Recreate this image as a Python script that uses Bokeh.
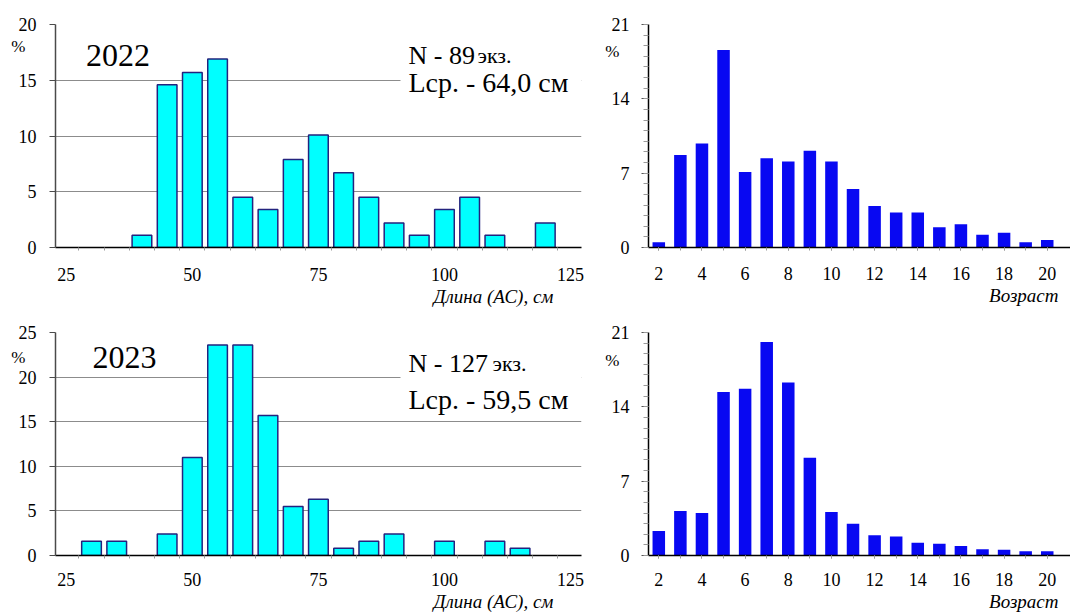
from bokeh.plotting import figure
from bokeh.layouts import row, column
from bokeh.models import FixedTicker, Label, BoxAnnotation, Range1d, LinearAxis, Title
from bokeh.embed import file_html
from bokeh.resources import INLINE

# ---------------- data ----------------
length_bins = [30, 35, 40, 45, 50, 55, 60, 65, 70, 75, 80, 85, 90, 95, 100, 105, 110, 115, 120]
length_2022 = [0, 0, 1.1, 14.6, 15.7, 16.9, 4.5, 3.4, 7.9, 10.1, 6.7, 4.5, 2.2, 1.1, 3.4, 4.5, 1.1, 0, 2.2]
length_2023 = [1.6, 1.6, 0, 2.4, 11.0, 23.6, 23.6, 15.7, 5.5, 6.3, 0.8, 1.6, 2.4, 0, 1.6, 0, 1.6, 0.8, 0]

ages = [2, 3, 4, 5, 6, 7, 8, 9, 10, 11, 12, 13, 14, 15, 16, 17, 18, 19, 20]
age_2022 = [0.5, 8.7, 9.8, 18.6, 7.1, 8.4, 8.1, 9.1, 8.1, 5.5, 3.9, 3.3, 3.3, 1.9, 2.2, 1.2, 1.4, 0.5, 0.7]
age_2023 = [2.3, 4.2, 4.0, 15.4, 15.7, 20.1, 16.3, 9.2, 4.1, 3.0, 1.9, 1.8, 1.2, 1.1, 0.9, 0.6, 0.55, 0.4, 0.4]

length_ticks = [25, 50, 75, 100, 125]
length_edges = [27.5, 32.5, 37.5, 42.5, 47.5, 52.5, 57.5, 62.5, 67.5, 72.5, 77.5, 82.5,
                87.5, 92.5, 97.5, 102.5, 107.5, 112.5, 117.5, 122.5]
length_yticks_2022 = [0, 5, 10, 15, 20]
length_yticks_2023 = [0, 5, 10, 15, 20, 25]
age_ticks = [2, 4, 6, 8, 10, 12, 14, 16, 18, 20]
age_yticks = [0, 7, 14, 21]

years = ["2022", "2023"]
counts = ["N - 89", "N - 127"]
means = ["Lср. - 64,0 см", "Lср. - 59,5 см"]
length_title = "Длина (АС), см"
age_title = "Возраст"
pct = "%"

SERIF = "Liberation Serif, 'Times New Roman', serif"


def make_fig(size, borders, xr, yr):
    w, h = size
    bl, br, bt, bb = borders
    p = figure(width=w, height=h,
               min_border_left=bl, min_border_right=br,
               min_border_top=bt, min_border_bottom=bb,
               x_range=Range1d(*xr), y_range=Range1d(*yr),
               output_backend="svg", toolbar_location=None,
               background_fill_color="white", border_fill_color="white",
               outline_line_color=None)
    p.xgrid.visible = False
    for ax in (p.xaxis[0], p.yaxis[0]):
        ax.major_label_text_font = SERIF
        ax.major_label_text_font_size = "18px"
        ax.major_label_text_color = "black"
        ax.major_tick_in = 0
        ax.minor_tick_in = 0
    return p


def add_pct_axis(p, yval, standoff):
    ax = LinearAxis(ticker=FixedTicker(ticks=[yval]),
                    major_label_overrides={yval: pct})
    ax.axis_line_color = None
    ax.major_tick_out = 0
    ax.major_tick_in = 0
    ax.minor_tick_out = 0
    ax.minor_tick_in = 0
    ax.major_label_standoff = standoff
    ax.major_label_text_font = SERIF
    ax.major_label_text_font_size = "17px"
    ax.major_label_text_color = "black"
    p.add_layout(ax, "left")


def add_x_title(p, text, offset):
    t = Title(text=text, align="right", offset=offset, standoff=0,
              text_font=SERIF, text_font_size="19px", text_font_style="italic",
              text_color="black")
    p.add_layout(t, "below")


def mapper(frame, xr, yr):
    L, R, T, B = frame

    def X(px):
        return xr[0] + (px - L) / (R - L) * (xr[1] - xr[0])

    def Y(py):
        return yr[0] + (B - py) / (B - T) * (yr[1] - yr[0])
    return X, Y


def length_panel(idx, values, yticks, frame, size, borders, xstandoff):
    L, R, T, B = frame
    px_per_unit = 5.042
    x0 = 25 - (65.8 - L) / px_per_unit
    xr = (x0, x0 + (R - L) / px_per_unit)
    yr = (0, yticks[-1])
    p = make_fig(size, borders, xr, yr)
    X, Y = mapper(frame, xr, yr)

    xs = [b for b, v in zip(length_bins, values) if v > 0]
    ts = [v for v in values if v > 0]
    p.vbar(x=xs, top=ts, bottom=0, width=3.9, fill_color="#00ffff",
           line_color="#23237e", line_width=1.5)

    p.ygrid.ticker = FixedTicker(ticks=yticks)
    p.ygrid.grid_line_color = "#8c8c8c"
    p.ygrid.grid_line_width = 1
    ya = p.yaxis[0]
    ya.ticker = FixedTicker(ticks=yticks)
    ya.axis_line_color = "#4a4a4a"
    ya.axis_line_width = 1.5
    ya.major_tick_line_color = "#4a4a4a"
    ya.major_tick_out = 6
    ya.minor_tick_out = 0
    ya.major_label_standoff = 13
    xa = p.xaxis[0]
    xa.ticker = FixedTicker(ticks=length_ticks, minor_ticks=length_edges)
    xa.axis_line_color = "black"
    xa.axis_line_width = 1.5
    xa.major_tick_out = 0
    xa.minor_tick_out = 3
    xa.minor_tick_line_color = "#9a9a9a"
    xa.major_label_standoff = xstandoff

    add_pct_axis(p, round(Y(T + (22.5 if idx == 0 else 25)), 2), -10)
    add_x_title(p, length_title, 28)

    # white patch that interrupts the grid line behind the legend text
    p.add_layout(BoxAnnotation(left=X(400), right=xr[1],
                               bottom=Y(T + (76 if idx == 0 else 75)),
                               top=Y(T + (38 if idx == 0 else 34)),
                               fill_color="white", fill_alpha=1.0, line_alpha=0))

    def lab(px, py, text, size_px, align="left", baseline="middle"):
        p.add_layout(Label(x=X(px), y=Y(py), text=text, text_font=SERIF,
                           text_font_size=f"{size_px}px", text_align=align,
                           text_baseline=baseline, text_color="black"))

    if idx == 0:
        lab(117.5, T + 31.5, years[idx], 32, align="center")
        lab(408, T + 31.3, counts[idx], 26, baseline="alphabetic")
        lab(477, T + 31.3, "экз.", 22, baseline="alphabetic")
        lab(408, T + 59, means[idx], 28, baseline="alphabetic")
    else:
        lab(124, T + 25.3, years[idx], 32, align="center")
        lab(408, T + 32, counts[idx], 26, baseline="alphabetic")
        lab(492, T + 32, "экз.", 22, baseline="alphabetic")
        lab(408, T + 68.7, means[idx], 28, baseline="alphabetic")
    return p


def age_panel(values, frame, size, borders, xstandoff):
    L, R, T, B = frame
    px_per_unit = 21.58
    x0 = 2 - (658.3 - L) / px_per_unit
    xr = (x0, x0 + (R - L) / px_per_unit)
    yr = (0, 21)
    p = make_fig(size, borders, xr, yr)
    p.ygrid.visible = False
    p.vbar(x=ages, top=values, bottom=0, width=0.58, fill_color="#0808f2",
           line_color=None)
    X, Y = mapper(frame, xr, yr)
    ya = p.yaxis[0]
    ya.ticker = FixedTicker(ticks=age_yticks, minor_ticks=list(range(0, 22)))
    ya.axis_line_color = "black"
    ya.axis_line_width = 1.5
    ya.major_tick_out = 7
    ya.major_tick_line_color = "#555555"
    ya.minor_tick_out = 5
    ya.minor_tick_line_color = "#9a9a9a"
    ya.major_label_standoff = 12
    xa = p.xaxis[0]
    xa.ticker = FixedTicker(ticks=age_ticks, minor_ticks=ages)
    xa.axis_line_color = "black"
    xa.axis_line_width = 1.5
    xa.major_tick_out = 3
    xa.minor_tick_out = 3
    xa.major_tick_line_color = "#9a9a9a"
    xa.minor_tick_line_color = "#9a9a9a"
    xa.major_label_standoff = xstandoff

    add_pct_axis(p, round(Y(T + 27.5), 2), -11)
    add_x_title(p, age_title, 12)
    return p


# frames in page/reference pixels (L, R, T, B); sizes and min borders in pixels
p_tl = length_panel(0, length_2022, length_yticks_2022, (55, 581, 21, 247),
                    (590, 310), (55, 9, 21, 63), 17)
p_tr = age_panel(age_2022, (648, 1070, 24, 248), (480, 310), (58, 0, 24, 62), 16)
p_bl = length_panel(1, length_2023, length_yticks_2023, (55, 581, 328, 555),
                    (590, 304), (55, 9, 18, 59), 14)
p_br = age_panel(age_2023, (648, 1070, 332, 555), (480, 304), (58, 0, 22, 59), 14)

layout = column(row(p_tl, p_tr, spacing=0), row(p_bl, p_br, spacing=0), spacing=0)

open("out.html", "w").write(file_html(layout, INLINE))
